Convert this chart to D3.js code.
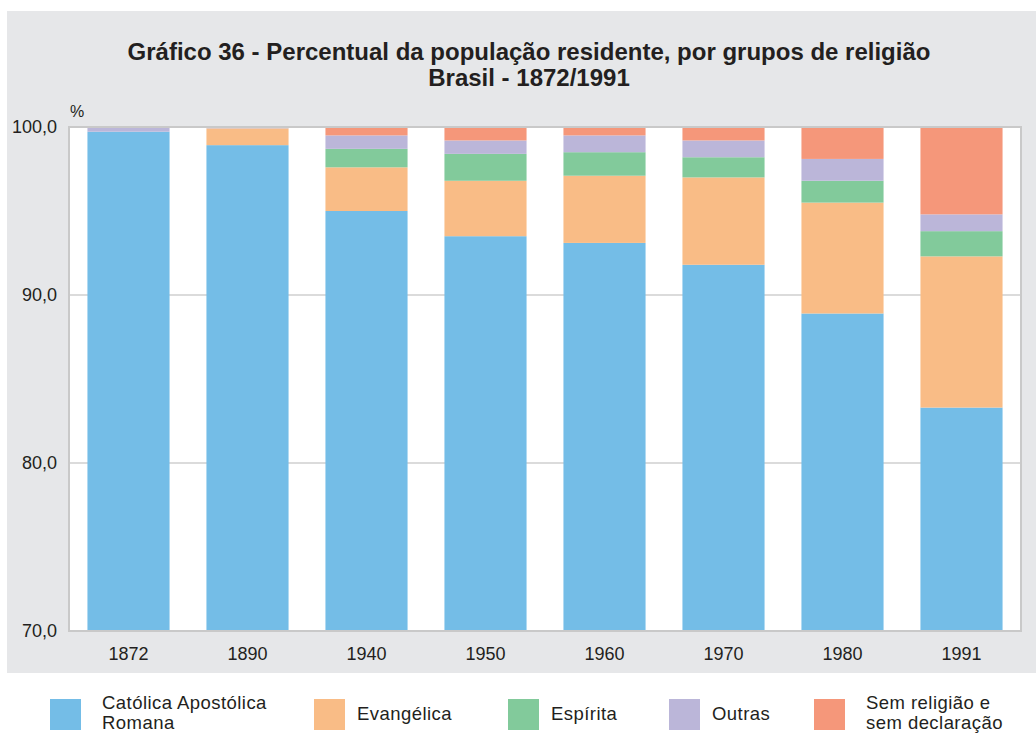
<!DOCTYPE html>
<html>
<head>
<meta charset="utf-8">
<script src="https://cdn.jsdelivr.net/npm/d3@7"></script>
<style>
  html, body { margin: 0; padding: 0; background: #ffffff; }
  svg { display: block; }
  text { font-family: "Liberation Sans", Arial, Helvetica, sans-serif; fill: #231f20; }
</style>
</head>
<body>
<svg id="chart" width="1036" height="733"></svg>
<script>
// Census years
const years = ["1872", "1890", "1940", "1950", "1960", "1970", "1980", "1991"];

// Percentage of resident population by religious group (stacked bottom to top)
const catolica   = [99.72, 98.92, 95.0, 93.5, 93.1, 91.8, 88.9, 83.3];
const evangelica = [0.0,   1.0,   2.6,  3.3,  4.0,  5.2,  6.6,  9.0];
const espirita   = [0.0,   0.0,   1.1,  1.6,  1.4,  1.2,  1.3,  1.5];
const outras     = [0.28,  0.03,  0.8,  0.8,  1.0,  1.0,  1.3,  1.0];
const semReligiao= [0.0,   0.05,  0.5,  0.8,  0.5,  0.8,  1.9,  5.2];

const seriesNames = ["Católica Apostólica Romana", "Evangélica", "Espírita", "Outras", "Sem religião e sem declaração"];
const seriesValues = [catolica, evangelica, espirita, outras, semReligiao];
const seriesColors = ["#74bde7", "#f9bc86", "#82ca9b", "#bbb6d9", "#f5977a"];
const legendLines = [["Católica Apostólica", "Romana"], ["Evangélica"], ["Espírita"], ["Outras"], ["Sem religião e", "sem declaração"]];

const yTicks = [70, 80, 90, 100];
const titleLines = ["Gráfico 36 - Percentual da população residente, por grupos de religião", "Brasil - 1872/1991"];

const svg = d3.select("#chart");

// Grey panel behind title and plot
svg.append("rect").attr("x", 7).attr("y", 11).attr("width", 1029).attr("height", 662).attr("fill", "#e6e7e9");

const plot = { left: 69, top: 127, right: 1021, bottom: 631 };

const x = d3.scaleBand().domain(years).range([plot.left, plot.right]).paddingInner(0.31).paddingOuter(0.155);
const y = d3.scaleLinear().domain([70, 100]).range([plot.bottom, plot.top]);

// Plot background
svg.append("rect").attr("x", plot.left).attr("y", plot.top)
  .attr("width", plot.right - plot.left).attr("height", plot.bottom - plot.top).attr("fill", "#ffffff");

// Horizontal grid lines
svg.append("g").selectAll("line").data(yTicks.filter(t => t > 70 && t < 100)).join("line")
  .attr("x1", plot.left).attr("x2", plot.right)
  .attr("y1", d => y(d)).attr("y2", d => y(d))
  .attr("stroke", "#cfcfcf").attr("stroke-width", 1.5);

// Stacked data
const rows = years.map((yr, i) => {
  const r = { year: yr };
  seriesNames.forEach((n, k) => r[n] = seriesValues[k][i]);
  return r;
});
const stacked = d3.stack().keys(seriesNames)(rows);

const clipId = "plotClip";
svg.append("clipPath").attr("id", clipId).append("rect")
  .attr("x", plot.left).attr("y", plot.top).attr("width", plot.right - plot.left).attr("height", plot.bottom - plot.top);

const barsG = svg.append("g").attr("clip-path", `url(#${clipId})`);
stacked.forEach((layer, k) => {
  barsG.append("g").attr("fill", seriesColors[k]).selectAll("rect").data(layer).join("rect")
    .attr("x", d => x(d.data.year))
    .attr("width", x.bandwidth())
    .attr("y", d => y(Math.min(d[1], 100)))
    .attr("height", d => Math.max(0, y(d[0]) - y(d[1])));
});

// Plot frame
svg.append("rect").attr("x", plot.left).attr("y", plot.top)
  .attr("width", plot.right - plot.left).attr("height", plot.bottom - plot.top)
  .attr("fill", "none").attr("stroke", "#c9c9c9").attr("stroke-width", 2);

// Y axis labels
const yAxis = d3.axisLeft(y).tickValues(yTicks).tickSize(0).tickPadding(12)
  .tickFormat(d => d3.format(".1f")(d).replace(".", ","));
const yg = svg.append("g").attr("transform", `translate(${plot.left},0)`).call(yAxis);
yg.select(".domain").remove();
yg.selectAll("text").attr("font-size", 18).attr("fill", "#231f20")
  .attr("font-family", "'Liberation Sans', Arial, sans-serif").attr("dy", "0.32em");

// X axis labels
const xAxis = d3.axisBottom(x).tickSize(0).tickPadding(16);
const xg = svg.append("g").attr("transform", `translate(0,${plot.bottom})`).call(xAxis);
xg.select(".domain").remove();
xg.selectAll("text").attr("font-size", 18).attr("fill", "#231f20")
  .attr("font-family", "'Liberation Sans', Arial, sans-serif");

// Unit label
svg.append("text").attr("x", 70).attr("y", 117).attr("font-size", 16).text("%");

// Title
svg.append("text").attr("x", 529).attr("y", 60).attr("text-anchor", "middle")
  .attr("font-size", 24).attr("font-weight", "bold")
  .selectAll("tspan").data(titleLines).join("tspan")
  .attr("x", 529).attr("dy", (d, i) => i === 0 ? 0 : 26).text(d => d);

// Legend
const legendX = [50, 314, 508, 669, 814];
const legendTextX = [102, 357, 551, 712, 866];
const legend = svg.append("g");
seriesNames.forEach((n, k) => {
  legend.append("rect").attr("x", legendX[k]).attr("y", 699).attr("width", 31).attr("height", 31)
    .attr("fill", seriesColors[k]);
  const lines = legendLines[k];
  const t = legend.append("text").attr("font-size", 18.5).attr("letter-spacing", 0.45);
  lines.forEach((ln, j) => {
    t.append("tspan").attr("x", legendTextX[k])
      .attr("y", lines.length === 1 ? 720 : 709 + j * 20)
      .text(ln);
  });
});
</script>
</body>
</html>
